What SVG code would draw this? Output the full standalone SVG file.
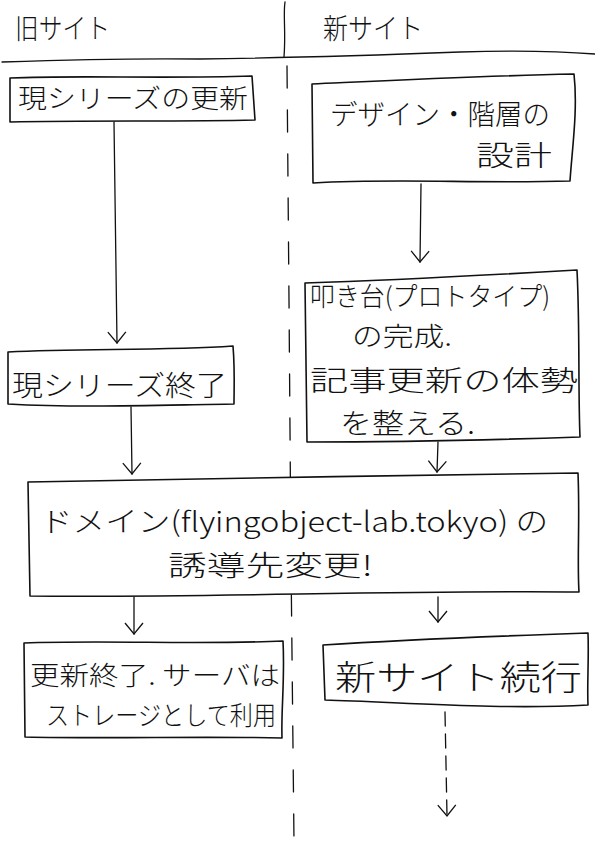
<svg xmlns="http://www.w3.org/2000/svg" width="595" height="842" viewBox="0 0 595 842">
<style>
.t{font-family:"Noto Sans CJK JP","Noto Sans",sans-serif;font-weight:300;fill:#111;}
.b{fill:#fff;stroke:#111;stroke-width:1.6;stroke-linejoin:round;stroke-linecap:round;}
.c{fill:none;stroke:#111;stroke-width:1.3;stroke-linecap:round;}
</style>
<defs>
<marker id="ah" viewBox="-12 -12 24 24" markerWidth="24" markerHeight="24" refX="0" refY="0" orient="auto" markerUnits="userSpaceOnUse">
<polyline points="-11,-9 0,0 -11,9" fill="none" stroke="#111" stroke-width="1.3"/>
</marker>
</defs>
<rect width="595" height="842" fill="#fff"/>
<g id="header">
<path class="c" d="M2,62 C60,60 120,58 200,59 C280,58 380,55 460,52 C520,50 570,52 595,54"/>
<path class="c" d="M285,2 C283,15 286,30 284,57"/>
<path class="c" d="M287,66 L289,300 L291,560 L294,842" stroke-dasharray="22,22"/>
<text class="t" x="15" y="39" font-size="28" textLength="95" lengthAdjust="spacingAndGlyphs">旧サイト</text>
<text class="t" x="323" y="39" font-size="28" textLength="100" lengthAdjust="spacingAndGlyphs">新サイト</text>
</g>
<g id="connectors">
<path class="c" d="M114,122 L117,343" marker-end="url(#ah)"/>
<path class="c" d="M421,184 L420,262" marker-end="url(#ah)"/>
<path class="c" d="M131,407 L132,474" marker-end="url(#ah)"/>
<path class="c" d="M438,442 L437,472" marker-end="url(#ah)"/>
<path class="c" d="M134,597 L134,634" marker-end="url(#ah)"/>
<path class="c" d="M438,597 L438,622" marker-end="url(#ah)"/>
<path class="c" d="M445,712 L447,816" stroke-dasharray="14,8" marker-end="url(#ah)"/>
</g>
<g id="n1">
<path class="b" d="M10,78 C80,75 160,79 252,76 L255,120 C180,122 90,120 10,122 Z"/>
<text class="t" x="18" y="108" font-size="26" textLength="230" lengthAdjust="spacingAndGlyphs">現シリーズの更新</text>
</g>
<g id="n2">
<path class="b" d="M312,84 C400,80 480,76 574,74 C578,110 572,150 570,181 C480,184 400,178 313,183 Z"/>
<text class="t" x="330" y="125" font-size="28" textLength="220" lengthAdjust="spacingAndGlyphs">デザイン・階層の</text>
<text class="t" x="476" y="166" font-size="28" textLength="76" lengthAdjust="spacingAndGlyphs">設計</text>
</g>
<g id="n3">
<path class="b" d="M8,352 C80,348 160,351 233,346 C235,370 234,390 234,404 C160,405 80,408 8,404 Z"/>
<text class="t" x="12" y="396" font-size="28" textLength="215" lengthAdjust="spacingAndGlyphs">現シリーズ終了</text>
</g>
<g id="n4">
<path class="b" d="M305,283 C400,280 490,275 577,270 C580,330 578,390 580,437 C490,440 400,442 307,442 Z"/>
<text class="t" x="310" y="306" font-size="26" textLength="240" lengthAdjust="spacingAndGlyphs">叩き台(プロトタイプ)</text>
<text class="t" x="352" y="346" font-size="26" textLength="100" lengthAdjust="spacingAndGlyphs">の完成.</text>
<text class="t" x="310" y="391" font-size="28" textLength="268" lengthAdjust="spacingAndGlyphs">記事更新の体勢</text>
<text class="t" x="340" y="434" font-size="28" textLength="135" lengthAdjust="spacingAndGlyphs">を整える.</text>
</g>
<g id="n5">
<path class="b" d="M28,482 C200,478 400,476 578,473 C580,520 577,560 579,592 C400,590 200,598 30,596 Z"/>
<text class="t" x="40" y="532" font-size="28" textLength="508" lengthAdjust="spacingAndGlyphs">ドメイン(flyingobject-lab.tokyo) の</text>
<text class="t" x="168" y="576" font-size="28" textLength="205" lengthAdjust="spacingAndGlyphs">誘導先変更!</text>
</g>
<g id="n6">
<path class="b" d="M24,643 C110,640 200,645 283,641 C285,680 281,710 282,738 C200,736 110,739 25,737 Z"/>
<text class="t" x="30" y="685" font-size="26" textLength="250" lengthAdjust="spacingAndGlyphs">更新終了. サーバは</text>
<text class="t" x="46" y="725" font-size="26" textLength="230" lengthAdjust="spacingAndGlyphs">ストレージとして利用</text>
</g>
<g id="n7">
<path class="b" d="M323,645 C400,640 500,636 588,633 C589,660 587,685 588,705 C500,710 400,702 325,700 Z"/>
<text class="t" x="335" y="690" font-size="34" textLength="247" lengthAdjust="spacingAndGlyphs">新サイト続行</text>
</g>
</svg>
